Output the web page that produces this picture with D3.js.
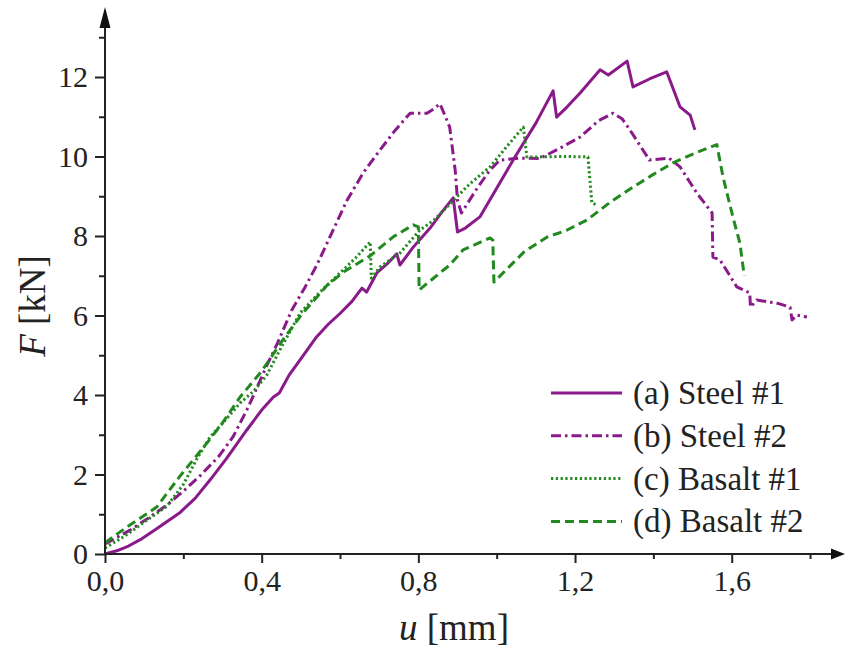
<!DOCTYPE html>
<html><head><meta charset="utf-8">
<script src="https://cdn.jsdelivr.net/npm/d3@7"></script>
<style>body{margin:0;background:#fff}svg{display:block}text{font-family:"Liberation Serif","Times New Roman",serif;fill:#222}</style>
</head><body><svg id="c" width="845" height="653"></svg>
<script>
const steel1 = [[0,0],[0.03,0.08],[0.06,0.2],[0.09,0.36],[0.13,0.62],[0.19,1.03],[0.23,1.4],[0.268,1.86],[0.31,2.4],[0.362,3.12],[0.40,3.62],[0.43,3.95],[0.445,4.05],[0.47,4.5],[0.51,5.05],[0.54,5.46],[0.57,5.78],[0.60,6.05],[0.63,6.35],[0.656,6.69],[0.668,6.59],[0.694,7.07],[0.72,7.3],[0.745,7.55],[0.753,7.27],[0.787,7.72],[0.83,8.2],[0.86,8.6],[0.889,8.96],[0.90,8.1],[0.92,8.2],[0.957,8.48],[1.0,9.2],[1.042,9.91],[1.10,10.84],[1.144,11.65],[1.153,10.99],[1.18,11.25],[1.213,11.6],[1.264,12.18],[1.285,12.05],[1.333,12.4],[1.348,11.75],[1.39,11.95],[1.434,12.13],[1.468,11.25],[1.494,11.04],[1.506,10.67]];
const steel2 = [[0,0.25],[0.064,0.6],[0.11,0.9],[0.158,1.23],[0.2,1.58],[0.243,1.97],[0.29,2.45],[0.327,2.95],[0.366,3.7],[0.408,4.63],[0.44,5.3],[0.477,6.14],[0.51,6.7],[0.541,7.27],[0.58,8.1],[0.618,8.9],[0.66,9.6],[0.702,10.16],[0.74,10.65],[0.779,11.09],[0.822,11.09],[0.84,11.2],[0.855,11.33],[0.865,11.1],[0.88,10.74],[0.894,9.66],[0.90,8.9],[0.91,8.58],[0.95,9.2],[0.983,9.66],[1.008,9.91],[1.06,9.96],[1.11,9.95],[1.16,10.2],[1.213,10.49],[1.26,10.9],[1.297,11.09],[1.32,10.95],[1.34,10.67],[1.39,9.91],[1.44,9.96],[1.468,9.74],[1.511,9.08],[1.55,8.58],[1.552,7.47],[1.57,7.4],[1.613,6.72],[1.646,6.57],[1.648,6.21],[1.664,6.39],[1.72,6.3],[1.749,6.21],[1.754,5.89],[1.766,6.01],[1.792,5.96]];
const basalt1 = [[0,0.15],[0.05,0.45],[0.1,0.8],[0.158,1.2],[0.2,1.75],[0.235,2.4],[0.268,2.94],[0.31,3.4],[0.345,3.8],[0.38,4.1],[0.413,4.5],[0.45,5.2],[0.498,6.06],[0.55,6.6],[0.60,7.07],[0.64,7.45],[0.677,7.85],[0.68,6.94],[0.702,7.22],[0.753,7.57],[0.804,8.15],[0.84,8.4],[0.88,8.8],[0.93,9.3],[0.983,9.74],[1.03,10.3],[1.068,10.74],[1.077,9.99],[1.11,9.99],[1.17,10.0],[1.233,9.99],[1.243,8.83],[1.256,8.78]];
const basalt2 = [[0,0.28],[0.056,0.68],[0.132,1.18],[0.19,1.94],[0.26,2.79],[0.30,3.3],[0.345,3.95],[0.40,4.6],[0.455,5.4],[0.5,6.0],[0.566,6.75],[0.61,7.1],[0.677,7.5],[0.736,7.98],[0.787,8.28],[0.80,8.23],[0.802,6.64],[0.84,6.95],[0.88,7.27],[0.914,7.65],[0.983,7.95],[0.99,7.9],[0.993,6.84],[1.016,7.07],[1.07,7.6],[1.128,7.97],[1.18,8.15],[1.23,8.4],[1.29,8.85],[1.348,9.23],[1.40,9.55],[1.45,9.84],[1.51,10.1],[1.562,10.3],[1.578,9.48],[1.603,8.48],[1.621,7.82],[1.632,7.0]];
const seriesNames = ["(a) Steel #1","(b) Steel #2","(c) Basalt #1","(d) Basalt #2"];
const xMajor = [0,0.4,0.8,1.2,1.6];
const xMajorLabels = ["0,0","0,4","0,8","1,2","1,6"];
const xMinor = [0.2,0.6,1.0,1.4,1.8];
const yMajor = [0,2,4,6,8,10,12];
const yMajorLabels = ["0","2","4","6","8","10","12"];
const yMinor = [1,3,5,7,9,11,13];

const svg = d3.select("#c");
const x = d3.scaleLinear().domain([0,1.6]).range([105,731.7]);
const y = d3.scaleLinear().domain([0,12]).range([554,77]);
const purple = "#8a1a8a", green = "#22891f";
const styles = [
  {data:steel1, color:purple, dash:null},
  {data:steel2, color:purple, dash:"10,4,2.5,4"},
  {data:basalt1, color:green, dash:"2.2,2.6"},
  {data:basalt2, color:green, dash:"9,5"}
];
const line = d3.line().x(d=>x(d[0])).y(d=>y(d[1]));
styles.forEach(s=>{
  svg.append("path").datum(s.data).attr("d",line).attr("fill","none")
    .attr("stroke",s.color).attr("stroke-width",3).attr("stroke-linejoin","round")
    .attr("stroke-dasharray",s.dash);
});

// axes
const ax = svg.append("g").attr("stroke","#222").attr("stroke-width",2);
ax.append("line").attr("x1",x(0)).attr("x2",834).attr("y1",y(0)).attr("y2",y(0));
ax.append("line").attr("x1",x(0)).attr("x2",x(0)).attr("y1",y(0)+1).attr("y2",22);
svg.append("path").attr("d",`M845,${y(0)} L831,${y(0)-5.5} L831,${y(0)+5.5} Z`).attr("fill","#111");
svg.append("path").attr("d",`M${x(0)},7 L${x(0)-5.5},28 L${x(0)+5.5},28 Z`).attr("fill","#111");

const xa = d3.axisBottom(x).tickValues(xMajor).tickSize(9).tickPadding(7).tickFormat((d,i)=>xMajorLabels[i]);
const gx = svg.append("g").attr("transform",`translate(0,${y(0)})`).call(xa);
gx.select(".domain").remove();
gx.selectAll(".tick line").attr("stroke","#222").attr("stroke-width",2);
gx.selectAll(".tick text").attr("font-size",30).attr("fill","#222").attr("font-family","Liberation Serif");
svg.append("g").attr("transform",`translate(0,${y(0)})`).call(d3.axisBottom(x).tickValues(xMinor).tickSize(5).tickFormat(""))
  .call(g=>g.select(".domain").remove()).selectAll("line").attr("stroke","#222").attr("stroke-width",2);

const ya = d3.axisLeft(y).tickValues(yMajor).tickSize(10).tickPadding(7).tickFormat((d,i)=>yMajorLabels[i]);
const gy = svg.append("g").attr("transform",`translate(${x(0)},0)`).call(ya);
gy.select(".domain").remove();
gy.selectAll(".tick line").attr("stroke","#222").attr("stroke-width",2);
gy.selectAll(".tick text").attr("font-size",30).attr("fill","#222").attr("font-family","Liberation Serif");
svg.append("g").attr("transform",`translate(${x(0)},0)`).call(d3.axisLeft(y).tickValues(yMinor).tickSize(6).tickFormat(""))
  .call(g=>g.select(".domain").remove()).selectAll("line").attr("stroke","#222").attr("stroke-width",2);

// titles
const xt = svg.append("text").attr("x",454).attr("y",640).attr("text-anchor","middle").attr("font-size",37);
xt.append("tspan").attr("font-style","italic").text("u");
xt.append("tspan").text(" [mm]");
const yt = svg.append("text").attr("transform","translate(45,306) rotate(-90)").attr("text-anchor","middle").attr("font-size",37);
yt.append("tspan").attr("font-style","italic").text("F");
yt.append("tspan").text(" [kN]");

// legend
const lg = svg.append("g");
styles.forEach((s,i)=>{
  const yy = 393 + i*42.8;
  lg.append("line").attr("x1",551).attr("x2",622).attr("y1",yy).attr("y2",yy)
    .attr("stroke",s.color).attr("stroke-width",3).attr("stroke-dasharray",s.dash);
  lg.append("text").attr("x",633).attr("y",yy+11).attr("font-size",33).text(seriesNames[i]);
});
</script></body></html>
